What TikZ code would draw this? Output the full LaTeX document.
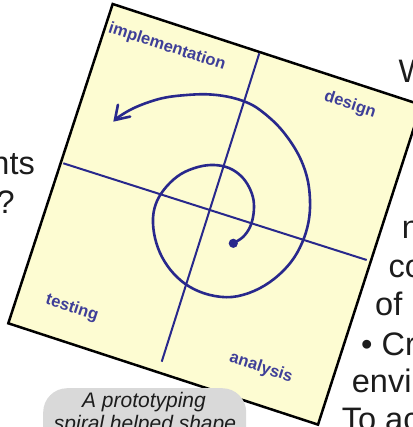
\documentclass[tikz,border=0pt]{standalone}
\usepackage{fontspec}
\setmainfont{Liberation Sans}
\usetikzlibrary{arrows.meta}
\definecolor{paper}{RGB}{253,252,210}
\definecolor{ink}{RGB}{40,40,140}
\definecolor{labelblue}{RGB}{62,62,152}
\definecolor{boxgray}{RGB}{217,217,217}
\definecolor{textgray}{RGB}{28,28,28}
\begin{document}
\begin{tikzpicture}[x=1pt,y=-1pt,
  bodytext/.style={inner sep=0pt, text=textgray, font=\fontsize{32.5}{38.5}\selectfont},
  quadlabel/.style={inner sep=0pt, text=labelblue, rotate=-18, font=\fontsize{16.5}{18}\selectfont\bfseries},
  captext/.style={inner sep=0pt, text=textgray, font=\fontsize{21}{23.5}\selectfont\itshape},
  axisline/.style={draw=ink, line width=2pt},
  spiralline/.style={draw=ink, line width=2.6pt, line cap=round},
]
\useasboundingbox (0,0) rectangle (412,427);

% the tilted sheet
\coordinate (sqT) at (112.7,4);
\coordinate (sqR) at (421.3,104.9);
\coordinate (sqB) at (318,424.6);
\coordinate (sqL) at (8.3,323.3);
\draw[fill=paper, line width=2.5pt, line join=miter] (sqT) -- (sqR) -- (sqB) -- (sqL) -- cycle;

% cross axes
\coordinate (hA) at (63.3,163.3);
\coordinate (hB) at (366.7,260);
\coordinate (vA) at (259.3,53.3);
\coordinate (vB) at (161.7,361.7);
\draw[axisline] (hA) -- (hB);
\draw[axisline] (vA) -- (vB);

% spiral
\coordinate (spStart) at (233.3,243.3);
\coordinate (spEnd) at (113.3,121.7);
\draw[spiralline, -{Straight Barb[length=13pt,width=17pt,line cap=round]}]
  plot[smooth, tension=0.6] coordinates {
  (233.3,243.3) (243,237) (250,227) (253.5,214) (253.5,200) (249,187)
  (241,176) (229,168) (214,165) (198,167) (181,174) (167,186) (157,201)
  (153,218) (155,238) (162,257) (174,274) (190,287) (210,295) (232,297)
  (254,291) (274,279) (291,262) (302,243) (308.5,222) (310,200) (306.7,176)
  (297,152) (280,128) (260,110) (245,101.7) (226.7,96.5) (206.7,94.3)
  (186.7,95) (166.7,97.3) (150,101.7) (133.3,108.3) (120,116) (113.3,121.7)};
\fill[ink] (spStart) circle (4.6pt);

% quadrant labels
\node[quadlabel] (limpl) at (167,47) {implementation};
\node[quadlabel] (ldes) at (350,105) {design};
\node[quadlabel] (ltest) at (72,308) {testing};
\node[quadlabel] (lana) at (261,368) {analysis};

% caption bubble
\node[draw=none, fill=boxgray, rounded corners=24pt, minimum width=203pt, minimum height=70pt, anchor=north west, inner sep=0pt] (capbox) at (43,388) {};
\node[captext, anchor=base] (cap1) at (144,407) {A prototyping};
\node[captext, anchor=base] (cap2) at (145,430.5) {spiral helped shape};

% surrounding text fragments
\node[bodytext, anchor=base west] (r1) at (398.3,83) {W};
\node[bodytext, anchor=base west] (r2) at (401.7,238) {n};
\node[bodytext, anchor=base west] (r3) at (388.3,277) {co};
\node[bodytext, anchor=base west] (r4) at (375,315) {of l};
\node[bodytext, anchor=base west] (r5) at (361,355) {\textbullet\ Cr};
\node[bodytext, anchor=base west] (r6) at (351.7,392) {envi};
\node[bodytext, anchor=base west] (r7) at (341.7,430.5) {To ac};
\node[bodytext, anchor=base east] (l1) at (35,175) {nts};
\node[bodytext, anchor=base east] (l2) at (15,213) {?};
\end{tikzpicture}
\end{document}
